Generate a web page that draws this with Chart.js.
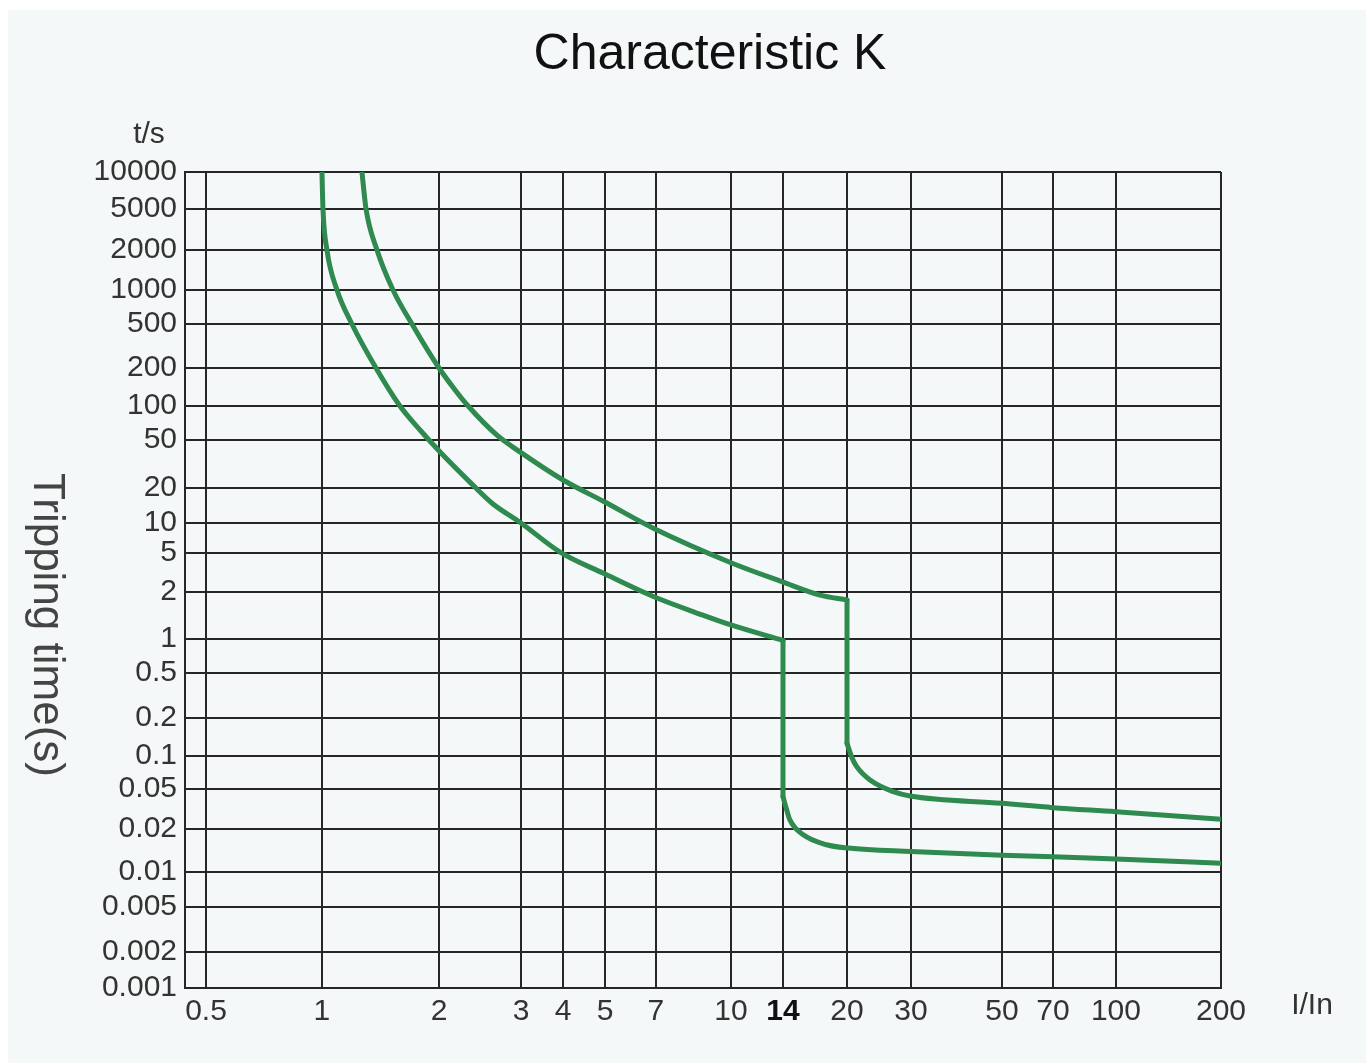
<!DOCTYPE html>
<html>
<head>
<meta charset="utf-8">
<title>Characteristic K</title>
<script src="https://cdn.jsdelivr.net/npm/chart.js@4.4.0/dist/chart.umd.min.js"></script>
<style>
  html, body { margin: 0; padding: 0; background: #fff; }
  #wrap { width: 1366px; height: 1063px; }
</style>
</head>
<body>
<div id="wrap"><canvas id="chart" width="1366" height="1063"></canvas></div>
<script>
const chartTitle = 'Characteristic K';

// tick labels of both axes
const currentTicks = [0.5, 1, 2, 3, 4, 5, 7, 10, 14, 20, 30, 50, 70, 100, 200];
const timeTicks = [0.001, 0.002, 0.005, 0.01, 0.02, 0.05, 0.1, 0.2, 0.5, 1, 2, 5, 10, 20, 50,
  100, 200, 500, 1000, 2000, 5000, 10000];

// curve that trips at 14 x In (lower band)
const lowerI = [1, 1.006, 1.03, 1.093, 1.194, 1.377, 1.587, 1.787, 2.02, 2.33, 2.6,
  3.0, 3.92, 4.96, 6.88, 8.76, 10, 14, 14, 14.29, 14.55, 15.68, 17.86, 20.16, 30, 50, 70, 100, 200];
const lowerT = [10000, 5000, 2000, 1000, 500, 200, 100, 61.3, 39, 22.4, 14.8,
  10, 5.1, 3.1, 1.87, 1.42, 1.23, 0.97, 0.042, 0.031, 0.0246, 0.0182, 0.0155, 0.0147, 0.0139,
  0.0131, 0.0128, 0.0123, 0.0115];

// curve that trips at 20 x In (upper band)
const upperI = [1.267, 1.298, 1.385, 1.523, 1.704, 2.0, 2.18, 2.31, 2.66, 2.98, 4.0,
  4.97, 6.88, 10, 13.9, 17.2, 20, 20, 20.6, 21.27, 23.14, 26.82, 29.8, 50, 70, 100, 200];
const upperT = [10000, 5000, 2000, 1000, 500, 200, 129.8, 100, 55.4, 40, 23.3,
  15.3, 8.85, 3.98, 2.55, 1.91, 1.78, 0.126, 0.098, 0.0799, 0.0604, 0.047, 0.0426, 0.036,
  0.0326, 0.0297, 0.025];

// the printed grid is not a true log grid: every step gets its own share of the axis
// [value, place along axis 0..1]
const axisStops = {
  x: [[0.44, 0], [0.5, 0.0203], [1, 0.1322], [2, 0.2452], [3, 0.3243], [4, 0.3649], [5, 0.4054],
      [7, 0.4546], [10, 0.527], [14, 0.5772], [20, 0.639], [30, 0.7008], [50, 0.7886],
      [70, 0.8378], [100, 0.8986], [200, 1]],
  y: [[0.001, 0], [0.002, 0.0441], [0.005, 0.0993], [0.01, 0.1422], [0.02, 0.1949],
      [0.05, 0.2439], [0.1, 0.2843], [0.2, 0.3309], [0.5, 0.386], [1, 0.4277], [2, 0.4853],
      [5, 0.5331], [10, 0.5699], [20, 0.6127], [50, 0.6716], [100, 0.7132], [200, 0.7598],
      [500, 0.8137], [1000, 0.8554], [2000, 0.9044], [5000, 0.9547], [10000, 1]]
};

class StopScale extends Chart.Scale {
  static id = 'stops';
  static defaults = {};

  determineDataLimits() {
    const s = axisStops[this.id];
    this.min = s[0][0];
    this.max = s[s.length - 1][0];
  }
  buildTicks() {
    const vals = this.id === 'x' ? currentTicks : timeTicks;
    return vals.map(v => ({ value: v }));
  }
  getLabelForValue(v) { return String(v); }
  getPixelForValue(v) {
    const s = axisStops[this.id];
    let i = 1;
    while (i < s.length - 1 && v > s[i][0]) i++;
    const [v0, f0] = s[i - 1], [v1, f1] = s[i];
    const f = f0 + (f1 - f0) * Math.log(v / v0) / Math.log(v1 / v0);
    return this.getPixelForDecimal(f);
  }
  getValueForPixel(p) {
    const s = axisStops[this.id];
    const f = this.getDecimalForPixel(p);
    let i = 1;
    while (i < s.length - 1 && f > s[i][1]) i++;
    const [v0, f0] = s[i - 1], [v1, f1] = s[i];
    return v0 * Math.pow(v1 / v0, (f - f0) / (f1 - f0));
  }
}
Chart.register(StopScale);

const green = '#2f8a4f';
const FONT = '"Liberation Sans", Arial, Helvetica, sans-serif';

function pts(I, T, from, to) {
  const out = [];
  for (let k = from; k <= to; k++) out.push({ x: I[k], y: T[k] });
  return out;
}
// thermal part, vertical trip, magnetic tail
function curve(I, T, jump) {
  const base = { borderColor: green, borderWidth: 5, pointRadius: 0, fill: false,
    borderCapStyle: 'round', borderJoinStyle: 'round', clip: 0 };
  return [
    Object.assign({ data: pts(I, T, 0, jump), cubicInterpolationMode: 'monotone' }, base),
    Object.assign({ data: pts(I, T, jump, jump + 1), tension: 0 }, base),
    Object.assign({ data: pts(I, T, jump + 1, I.length - 1), cubicInterpolationMode: 'monotone' }, base)
  ];
}

const textPlugin = {
  id: 'texts',
  beforeDraw(chart) {
    const ctx = chart.ctx;
    ctx.save();
    ctx.fillStyle = '#f5f8f8';
    ctx.fillRect(8, 10, chart.width - 8, chart.height - 10);
    ctx.restore();
  },
  afterDraw(chart) {
    const { ctx, chartArea: a } = chart;
    ctx.save();
    ctx.textAlign = 'center';
    ctx.textBaseline = 'middle';
    ctx.fillStyle = '#111';
    ctx.font = '50px ' + FONT;
    ctx.fillText(chartTitle, (a.left + a.right) / 2 + 7, 55);

    ctx.fillStyle = '#333';
    ctx.font = '30px ' + FONT;
    ctx.fillText('t/s', a.left - 36, a.top - 37);
    ctx.fillText('I/In', a.right + 91, a.bottom + 18);

    ctx.fillStyle = '#444';
    ctx.font = '44px ' + FONT;
    ctx.translate(46, (a.top + a.bottom) / 2 + 45);
    ctx.rotate(Math.PI / 2);
    ctx.fillText('Tripping time(s)', 0, 0);
    ctx.restore();
  }
};

const gridOpts = { color: '#262626', lineWidth: 2, drawTicks: false };

new Chart(document.getElementById('chart'), {
  type: 'line',
  data: {
    datasets: [...curve(lowerI, lowerT, 17), ...curve(upperI, upperT, 16)]
  },
  options: {
    responsive: false,
    animation: false,
    events: [],
    layout: { padding: { top: 172, right: 145, left: 0, bottom: 0 } },
    plugins: { legend: { display: false }, tooltip: { enabled: false }, title: { display: false } },
    scales: {
      x: {
        type: 'stops',
        position: 'bottom',
        grid: gridOpts,
        border: { color: '#262626', width: 2 },
        afterFit(scale) { scale.height = 75; },
        ticks: {
          autoSkip: false, maxRotation: 0, padding: 6,
          color: c => (c.tick && c.tick.value === 14) ? '#111' : '#333',
          font: c => ({ family: FONT, size: 30,
            weight: (c.tick && c.tick.value === 14) ? 'bold' : 'normal' })
        }
      },
      y: {
        type: 'stops',
        position: 'left',
        grid: gridOpts,
        border: { color: '#262626', width: 2 },
        afterFit(scale) { scale.width = 185; },
        ticks: {
          autoSkip: false, padding: 8, color: '#333',
          font: { family: FONT, size: 30 }
        }
      }
    }
  },
  plugins: [textPlugin]
});
</script>
</body>
</html>
